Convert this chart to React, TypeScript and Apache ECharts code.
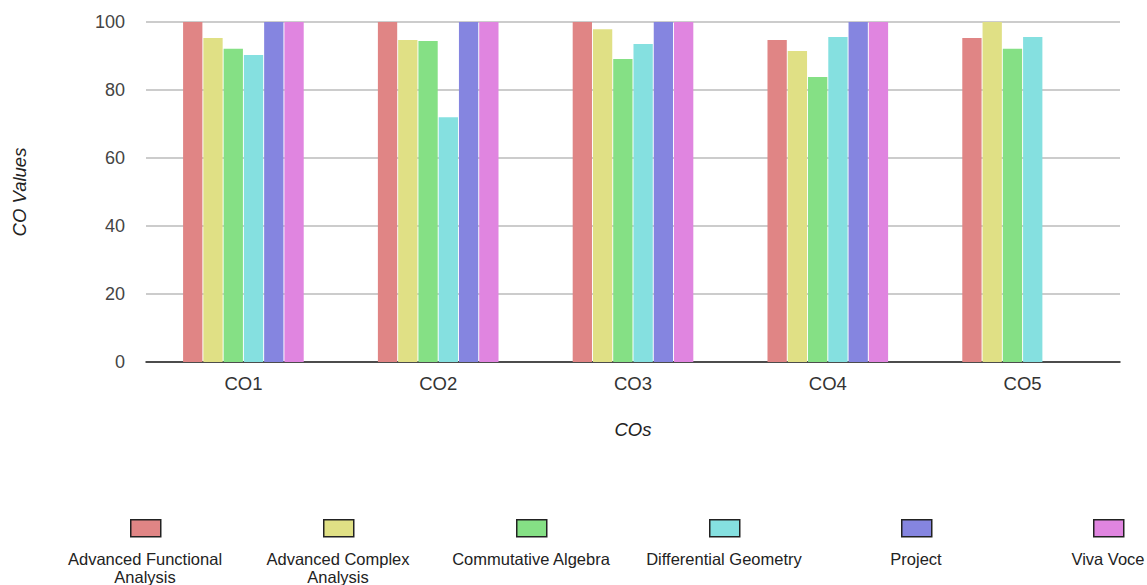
import React, { useEffect, useRef } from "react";
import * as echarts from "echarts";

const categories = ["CO1", "CO2", "CO3", "CO4", "CO5"];
const seriesNames = [
  "Advanced Functional Analysis",
  "Advanced Complex Analysis",
  "Commutative Algebra",
  "Differential Geometry",
  "Project",
  "Viva Voce",
];
const legendLabels = [
  "Advanced Functional\nAnalysis",
  "Advanced Complex\nAnalysis",
  "Commutative Algebra",
  "Differential Geometry",
  "Project",
  "Viva Voce",
];
const afa = [100, 100, 100, 94.7, 95.3];
const aca = [95.3, 94.7, 97.9, 91.5, 100];
const ca = [92.1, 94.4, 89.1, 83.8, 92.1];
const dg = [90.3, 72, 93.5, 95.6, 95.6];
const project = [100, 100, 100, 100, null];
const viva = [100, 100, 100, 100, null];
const seriesValues = [afa, aca, ca, dg, project, viva];
const colors = ["#e08585", "#e0e085", "#85e085", "#85e0e0", "#8585e0", "#e085e0"];
const yTicks = { min: 0, max: 100, interval: 20 };

const legendCenters = [145, 338, 531, 724, 916, 1108];

export default function App() {
  const ref = useRef<HTMLDivElement>(null);
  useEffect(() => {
    if (!ref.current) return;
    const chart = echarts.init(ref.current, null, { renderer: "svg" });
    const font = "'Liberation Sans', Arial, sans-serif";
    const legends = seriesNames.map((n, i) => ({
      data: [n],
      left: legendCenters[i] - 15,
      top: 519,
      itemWidth: 30,
      itemHeight: 17,
      itemGap: 0,
      padding: 0,
      formatter: () => "",
      selectedMode: false,
      icon: "rect",
      itemStyle: { borderColor: "#222", borderWidth: 1.5 },
      textStyle: { fontSize: 1 },
    }));
    const graphics = legendLabels.map((t, i) => ({
      type: "text",
      x: legendCenters[i],
      y: 550,
      style: {
        text: t,
        align: "center",
        verticalAlign: "top",
        fontSize: 16.5,
        lineHeight: 18,
        fontFamily: font,
        fill: "#222",
      },
    }));
    chart.setOption({
      animation: false,
      textStyle: { fontFamily: font },
      grid: { left: 146, right: 27, top: 22, bottom: 223, containLabel: false },
      legend: legends,
      graphic: graphics,
      xAxis: {
        type: "category",
        data: categories,
        name: "COs",
        nameLocation: "middle",
        nameGap: 58,
        nameTextStyle: { fontStyle: "italic", fontSize: 18.5, color: "#222", fontFamily: font },
        axisLine: { lineStyle: { color: "#222", width: 1.5 } },
        axisTick: { show: false },
        axisLabel: { fontSize: 18.5, color: "#333", margin: 12, fontFamily: font },
      },
      yAxis: {
        type: "value",
        min: yTicks.min,
        max: yTicks.max,
        interval: yTicks.interval,
        name: "CO Values",
        nameLocation: "middle",
        nameGap: 117,
        nameTextStyle: { fontStyle: "italic", fontSize: 18.5, color: "#222", fontFamily: font },
        axisLine: { show: false },
        axisTick: { show: false },
        axisLabel: { fontSize: 18, color: "#444", margin: 21, fontFamily: font },
        splitLine: { lineStyle: { color: "#cccccc", width: 2 } },
      },
      series: seriesNames.map((n, i) => ({
        name: n,
        type: "bar",
        data: seriesValues[i],
        barWidth: 19.3,
        barGap: "5%",
        itemStyle: { color: colors[i] },
      })),
    });
    return () => chart.dispose();
  }, []);
  return <div ref={ref} style={{ width: 1147, height: 585, position: "absolute", left: 0, top: 0 }} />;
}
